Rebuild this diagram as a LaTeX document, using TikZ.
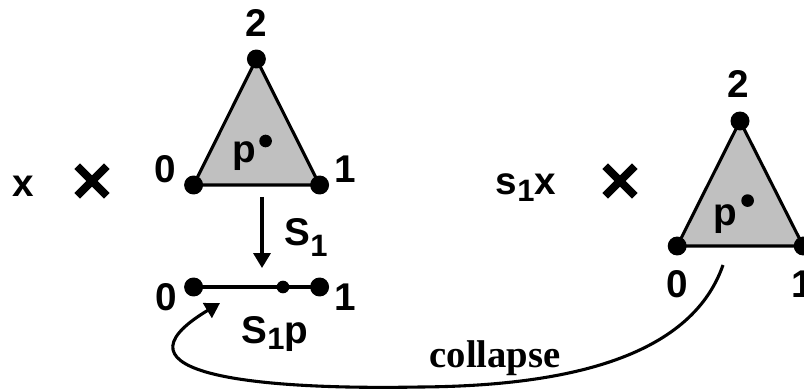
\documentclass[tikz,border=0pt]{standalone}
\usepackage{fontspec}
\setmainfont{Liberation Sans}
\newfontfamily\collfont{Liberation Serif}
\usetikzlibrary{arrows.meta}
\definecolor{ink}{RGB}{0,0,0}
\definecolor{face}{RGB}{192,192,192}
\newcommand{\lsub}[2][.16em]{\raisebox{-#1}{\scalebox{.8}{#2}}}
\tikzset{
  sedge/.style={ink,line width=2.2pt,line join=round},
  sface/.style={sedge,fill=face},
  vdot/.style={circle,fill=ink,inner sep=0pt,minimum size=13.5pt},
  pdot/.style={circle,fill=ink,inner sep=0pt,minimum size=9pt},
  lab/.style={font=\bfseries\fontsize{27.5}{30}\selectfont,inner sep=0pt,anchor=base},
  maparrow/.style={ink,line width=2.2pt,-{Triangle[length=10.5pt,width=12pt]}},
  timesx/.style={ink,line width=5.6pt},
}

\begin{document}
\begin{tikzpicture}
  \useasboundingbox (0,0) rectangle (20.1,9.725);
  % simplices and the collapsed edge
  \foreach \n/\x/\y in {a0/4.84/5.1,a1/7.99/5.1,a2/6.41/8.25,
                        c0/16.93/3.575,c1/20.08/3.575,c2/18.5/6.7,
                        b0/4.84/2.55,b1/7.99/2.55}
    {\coordinate (\n) at (\x,\y);}
  \filldraw[sface] (a0)--(a1)--(a2)--cycle;
  \filldraw[sface] (c0)--(c1)--(c2)--cycle;
  \draw[sedge] (b0)--(b1);
  \foreach \n in {a0,a1,a2,c0,c1,c2,b0,b1} {\node[vdot] (\n dot) at (\n) {};}
  \node[pdot] (bp) at (7.075,2.55) {};
  \node[pdot] (apt) at (6.64,6.2) {};
  \node[pdot] (cpt) at (18.69,4.71) {};
  % labels
  \foreach \n/\x/\y/\t in {a2lab/6.4/8.8/2,a0lab/4.125/5.15/0,a1lab/8.625/5.15/1,
                           c2lab/18.45/7.275/2,c0lab/16.94/2.3/0,c1lab/20.05/2.3/1,
                           b0lab/4.15/1.975/0,b1lab/8.625/1.975/1,
                           apl/6.1/5.65/p,cpl/18.12/4.1/p,xlab/0.575/4.8/x}
    {\node[lab] (\n) at (\x,\y) {\t};}
  \node[lab] (sxlab) at (13.15,4.85) {s\lsub{1}x};
  \node[lab] (maplab) at (7.65,3.6) {S\lsub[.3em]{1}};
  \node[lab] (splab) at (6.875,1.15) {S\lsub{1}p};
  \node[lab,font=\collfont\bfseries\fontsize{27.5}{30}\selectfont] (collab) at (12.375,0.55) {collapse};
  % product signs
  \foreach \cx in {2.3,15.5}
    \draw[timesx] ({\cx-0.37},4.83) -- ++(0.74,0.74) ({\cx-0.37},5.57) -- ++(0.74,-0.74);
  % maps
  \coordinate (mapfrom) at (6.55,4.8);
  \coordinate (mapto) at (6.55,3.025);
  \draw[maparrow] (mapfrom) -- (mapto);
  \coordinate (cfrom) at (18.075,3.1);
  \coordinate (cmid) at (10.5,0.05);
  \coordinate (cto) at (5.5,2.15);
  \draw[maparrow] (cfrom) .. controls (17.25,0.725) and (14.0,0.075) .. (cmid)
                          .. controls (6.5,-0.025) and (2.5,0.35) .. (cto);
\end{tikzpicture}
\end{document}
